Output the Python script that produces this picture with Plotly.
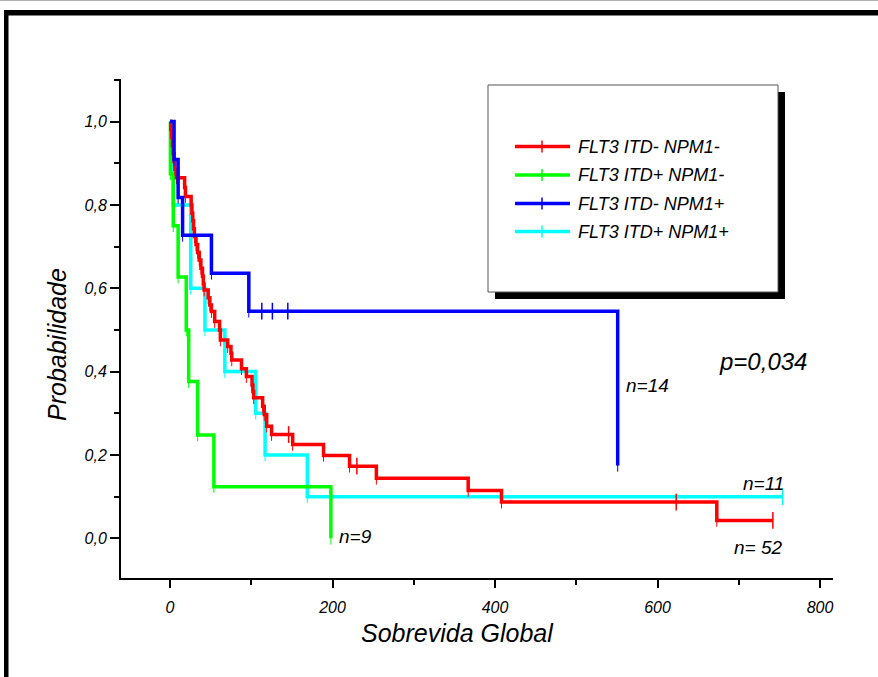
import plotly.graph_objects as go

# ---------------- data ----------------
names = ["FLT3 ITD- NPM1-", "FLT3 ITD+ NPM1-", "FLT3 ITD- NPM1+", "FLT3 ITD+ NPM1+"]
colors = ["#ff0000", "#00ff00", "#0000ff", "#00ffff"]

red_times = [1, 2, 3, 4, 5, 6, 8, 18, 19, 26, 27, 28, 29, 30, 32, 34, 36, 38, 40, 41, 42,
             47, 49, 51, 55, 61, 62, 71, 75, 76, 88, 94, 101, 102, 103, 114, 116, 119,
             125, 151, 189, 221, 254, 367, 408, 673]
red_surv = [0.981, 0.962, 0.942, 0.923, 0.904, 0.885, 0.865, 0.842, 0.820, 0.800, 0.780,
            0.762, 0.743, 0.724, 0.705, 0.686, 0.668, 0.648, 0.629, 0.610, 0.596,
            0.577, 0.560, 0.544, 0.520, 0.500, 0.476, 0.460, 0.444, 0.428, 0.407, 0.388,
            0.368, 0.352, 0.337, 0.317, 0.297, 0.269, 0.249, 0.225, 0.199, 0.173, 0.144,
            0.115, 0.087, 0.043]
red_end = 742
red_censor = [146, 230, 623, 742]

green_times = [0.5, 4, 10, 20, 23, 34, 54, 198]
green_surv = [0.875, 0.750, 0.627, 0.500, 0.376, 0.248, 0.124, 0.0]
green_end = 198
green_censor = []

blue_times = [5, 10, 15.5, 51, 97, 551]
blue_surv = [0.909, 0.818, 0.727, 0.636, 0.545, 0.175]
blue_end = 551
blue_censor = [113, 126, 145]

cyan_times = [1, 4, 25.5, 43, 67.5, 105.5, 117, 169]
cyan_surv = [0.9, 0.8, 0.6, 0.5, 0.4, 0.3, 0.2, 0.1]
cyan_end = 754
cyan_censor = [754]

n_labels = ["n= 52", "n=9", "n=14", "n=11"]
p_text = "p=0,034"
x_title = "Sobrevida Global"
y_title = "Probabilidade"

# ---------------- layout geometry ----------------
W, H = 878, 677
L, R, T, B = 121, 833, 79, 578
FONT = "Liberation Sans, Arial, Helvetica, sans-serif"


def px(x):
    return (x - L) / (R - L)


def py(y):
    return (B - y) / (B - T)


def surv_at(times, surv, t):
    s = 1.0
    for ti, si in zip(times, surv):
        if ti <= t:
            s = si
    return s


series = [
    (names[0], colors[0], red_times, red_surv, red_end, red_censor),
    (names[1], colors[1], green_times, green_surv, green_end, green_censor),
    (names[2], colors[2], blue_times, blue_surv, blue_end, blue_censor),
    (names[3], colors[3], cyan_times, cyan_surv, cyan_end, cyan_censor),
]
draw_order = [3, 1, 0, 2]

fig = go.Figure()
for i in draw_order:
    name, col, times, surv, end, cens = series[i]
    xs = [0] + list(times)
    ys = [1.0] + list(surv)
    if end > times[-1]:
        xs.append(end)
        ys.append(surv[-1])
    fig.add_trace(go.Scatter(x=xs, y=ys, mode="lines", line=dict(color=col, width=3.5, shape="hv"),
                             name=name, showlegend=False, hoverinfo="skip"))
    # little event ticks at each drop
    fig.add_trace(go.Scatter(x=list(times), y=list(surv), mode="markers",
                             marker=dict(symbol="line-ns", size=9, line=dict(color=col, width=1)),
                             showlegend=False, hoverinfo="skip", cliponaxis=False))
    if cens:
        fig.add_trace(go.Scatter(x=cens, y=[surv_at(times, surv, c) for c in cens], mode="markers",
                                 marker=dict(symbol="line-ns", size=12, line=dict(color=col, width=1.5)),
                                 showlegend=False, hoverinfo="skip", cliponaxis=False))

shapes = []
annotations = []

# outer frame (top and left thick black borders)
shapes.append(dict(type="rect", xref="paper", yref="paper", x0=px(4), x1=px(878), y0=py(15.5), y1=py(10),
                   fillcolor="black", line=dict(width=0), layer="above"))
shapes.append(dict(type="rect", xref="paper", yref="paper", x0=px(4), x1=px(8.5), y0=py(677), y1=py(10),
                   fillcolor="black", line=dict(width=0), layer="above"))
shapes.append(dict(type="line", xref="paper", yref="paper", x0=px(0), x1=px(878), y0=py(0.5), y1=py(0.5),
                   line=dict(color="#b0b0b0", width=1)))

# legend box with shadow
shapes.append(dict(type="rect", xref="paper", yref="paper", x0=px(495), x1=px(785), y0=py(299), y1=py(92),
                   fillcolor="black", line=dict(width=0), layer="above"))
shapes.append(dict(type="rect", xref="paper", yref="paper", x0=px(488), x1=px(778), y0=py(292), y1=py(85),
                   fillcolor="white", line=dict(color="#555555", width=1), layer="above"))
rows = [146.5, 175, 203.5, 231.5]
for (name, col, *_), yr in zip(series, rows):
    shapes.append(dict(type="line", xref="paper", yref="paper", x0=px(515), x1=px(570), y0=py(yr), y1=py(yr),
                       line=dict(color=col, width=3.5), layer="above"))
    shapes.append(dict(type="line", xref="paper", yref="paper", x0=px(542), x1=px(542), y0=py(yr - 6),
                       y1=py(yr + 6), line=dict(color=col, width=1.5), layer="above"))
    annotations.append(dict(xref="paper", yref="paper", x=px(576), y=py(yr), text=name, showarrow=False,
                            xanchor="left", yanchor="middle",
                            font=dict(family=FONT, size=18, color="black", style="italic")))

# in-plot labels
annotations += [
    dict(xref="paper", yref="paper", x=px(763), y=py(361), text=p_text, showarrow=False,
         xanchor="center", yanchor="middle", font=dict(family=FONT, size=24, color="black", style="italic")),
    dict(xref="paper", yref="paper", x=px(647), y=py(385), text=n_labels[2], showarrow=False,
         xanchor="center", yanchor="middle", font=dict(family=FONT, size=19, color="black", style="italic")),
    dict(xref="paper", yref="paper", x=px(786), y=py(483), text=n_labels[3], showarrow=False,
         xanchor="right", yanchor="middle", font=dict(family=FONT, size=19, color="black", style="italic")),
    dict(xref="paper", yref="paper", x=px(785), y=py(547), text=n_labels[0], showarrow=False,
         xanchor="right", yanchor="middle", font=dict(family=FONT, size=19, color="black", style="italic")),
    dict(xref="paper", yref="paper", x=px(355), y=py(536), text=n_labels[1], showarrow=False,
         xanchor="center", yanchor="middle", font=dict(family=FONT, size=19, color="black", style="italic")),
    dict(xref="paper", yref="paper", x=px(457), y=py(633), text=x_title, showarrow=False,
         xanchor="center", yanchor="middle", font=dict(family=FONT, size=25, color="black", style="italic")),
    dict(xref="paper", yref="paper", x=px(57), y=py(345), text=y_title, showarrow=False, textangle=-90,
         xanchor="center", yanchor="middle", font=dict(family=FONT, size=25, color="black", style="italic")),
]

tickfont = dict(family=FONT, size=16, color="black", style="italic")
fig.update_layout(
    width=W, height=H,
    margin=dict(l=L, r=W - R, t=T, b=H - B, pad=0),
    paper_bgcolor="white", plot_bgcolor="white",
    separators=",.",
    showlegend=False,
    shapes=shapes,
    annotations=annotations,
    xaxis=dict(range=[(L - 170) / 0.8125, (R - 170) / 0.8125], showline=True, linecolor="black", linewidth=2,
               ticks="outside", tickmode="linear", tick0=0, dtick=200, ticklen=8, tickwidth=1.5,
               tickcolor="black", tickfont=tickfont, showgrid=False, zeroline=False,
               ticklabelstandoff=6,
               minor=dict(tickmode="linear", tick0=0, dtick=100, ticklen=5, tickwidth=1.5,
                          tickcolor="black", ticks="outside", showgrid=False)),
    yaxis=dict(range=[(538.3 - B) / 416.7, (538.3 - T) / 416.7], showline=True, linecolor="black",
               linewidth=2, ticks="outside", tickmode="linear", tick0=0, dtick=0.2, tickformat=".1f",
               ticklen=9, tickwidth=1.5, tickcolor="black", tickfont=tickfont, showgrid=False,
               zeroline=False,
               minor=dict(tickmode="linear", tick0=0, dtick=0.1, ticklen=5, tickwidth=1.5,
                          tickcolor="black", ticks="outside", showgrid=False)),
)

fig.write_html("out.html", config={"displayModeBar": False},
               post_script="document.body.style.margin='0';document.body.style.overflow='hidden';")
